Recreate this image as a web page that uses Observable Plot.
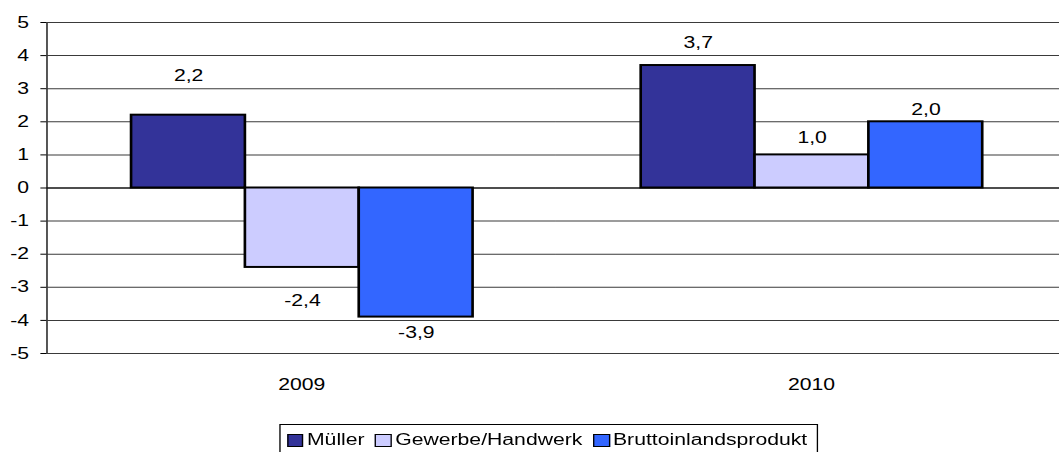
<!DOCTYPE html>
<html>
<head>
<meta charset="utf-8">
<script src="https://cdn.jsdelivr.net/npm/d3@7"></script>
<script src="https://cdn.jsdelivr.net/npm/@observablehq/plot@0.6"></script>
<style>
  html, body { margin: 0; padding: 0; background: #fff; overflow: hidden; }
  body { width: 1059px; height: 452px; position: relative; font-family: "Liberation Sans", Arial, sans-serif; }
  #wrap { position: absolute; left: 0; top: 0; width: 805px; height: 452px; transform: scaleX(1.32375); transform-origin: 0 0; }
  #legend {
    position: absolute; left: 0px; top: 424px; width: 407px; height: 40px;
    margin-left: 210.8px;
    border: 1px solid #000; box-sizing: border-box; display: flex; align-items: flex-start;
    padding-top: 7px; padding-left: 5px; font-size: 16px; line-height: 16px; color: #000; white-space: nowrap;
  }
  #legend .item { display: inline-flex; align-items: center; margin-right: 8px; }
  #legend .sw { width: 12.6px; height: 13px; border: 1.6px solid #000; box-sizing: border-box; margin-right: 2.5px; display: inline-block; }
</style>
</head>
<body>
<div id="wrap">
<div id="chart"></div>
<div id="legend"></div>
</div>
<script>
const years = ["2009", "2010"];
const seriesNames = ["Müller", "Gewerbe/Handwerk", "Bruttoinlandsprodukt"];
const muellerValues = [2.2, 3.7];
const gewerbeValues = [-2.4, 1.0];
const bipValues = [-3.9, 2.0];
// where the value labels sit (in data units)
const muellerLabelAt = [3.39, 4.37];
const gewerbeLabelAt = [-3.42, 1.50];
const bipLabelAt = [-4.39, 2.35];
const seriesColors = ["#333399", "#CCCCFF", "#3366FF"];
const yTicks = [-5, -4, -3, -2, -1, 0, 1, 2, 3, 4, 5];

const valuesBySeries = [muellerValues, gewerbeValues, bipValues];
const labelsBySeries = [muellerLabelAt, gewerbeLabelAt, bipLabelAt];
const table = [];
years.forEach((yr, i) => {
  seriesNames.forEach((s, j) => {
    table.push({year: yr, series: s, value: valuesBySeries[j][i], labelY: labelsBySeries[j][i]});
  });
});
const fmt = v => v.toFixed(1).replace(".", ",").replace("−", "-");

const chart = Plot.plot({
  width: 805,
  height: 420,
  marginLeft: 34,
  marginRight: 0,
  marginTop: 22,
  marginBottom: 67,
  style: {fontFamily: "'Liberation Sans', Arial, sans-serif", fontSize: "16px", color: "#000", background: "#fff"},
  fx: {domain: years, padding: 0, tickSize: 0, tickPadding: 25, label: null},
  x: {domain: seriesNames, paddingInner: 0, paddingOuter: 0.73, axis: null},
  y: {domain: [-5, 5], ticks: yTicks, tickSize: 4.5, tickPadding: 9, line: true, label: null, tickFormat: d => String(d)},
  color: {domain: seriesNames, range: seriesColors},
  marks: [
    Plot.ruleY(yTicks, {stroke: "#3a3a3a", strokeWidth: 1}),
    Plot.ruleY([0], {stroke: "#000", strokeWidth: 1}),
    Plot.barY(table, {fx: "year", x: "series", y: "value", fill: "series", stroke: "#000", strokeWidth: 2}),
    Plot.text(table, {fx: "year", x: "series", y: "labelY", text: d => fmt(d.value), fill: "#000", fontSize: 16})
  ]
});
document.getElementById("chart").appendChild(chart);

const legend = document.getElementById("legend");
seriesNames.forEach((s, j) => {
  const item = document.createElement("span");
  item.className = "item";
  const sw = document.createElement("span");
  sw.className = "sw";
  sw.style.background = seriesColors[j];
  item.appendChild(sw);
  item.appendChild(document.createTextNode(s));
  legend.appendChild(item);
});
</script>
</body>
</html>
